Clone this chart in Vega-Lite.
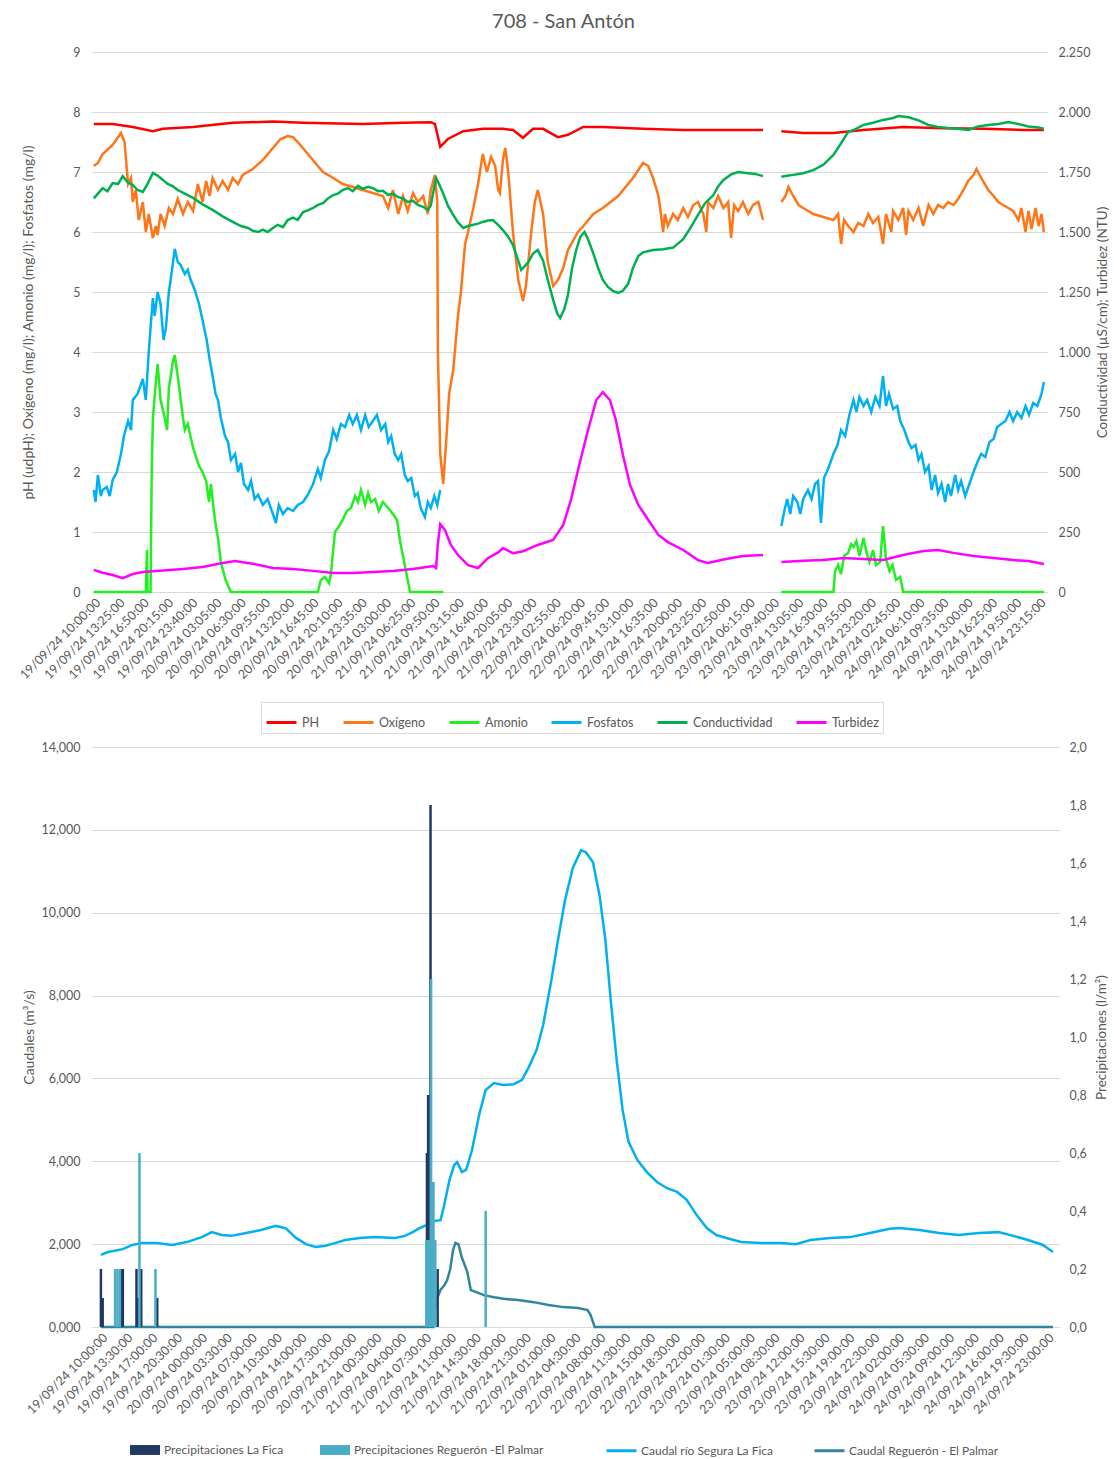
{
"$schema":"https://vega.github.io/schema/vega-lite/v6.json",
"title":{"text":"708 - San Antón","fontSize":20,"font":"Lato","color":"#595959","fontWeight":"normal","anchor":"middle","offset":14},
"padding":{"left":17,"right":0,"top":12,"bottom":0},
"config":{"font":"Lato","view":{"stroke":null},
"axis":{"labelFont":"Lato","labelColor":"#595959","labelFontSize":12.5,"titleFont":"Lato","titleColor":"#595959","titleFontSize":14,"titleFontWeight":"normal","domain":false,"ticks":false,"gridColor":"#d9d9d9"},
"legend":{"labelFont":"Lato","labelColor":"#595959","labelFontSize":12.5,"padding":6,"labelLimit":400},
"concat":{"spacing":7}},
"datasets":{
"top":[
{"s":"PH","g":1,"t":"2024-09-19T10:00","v":7.8},{"s":"PH","g":1,"t":"2024-09-19T12:40","v":7.8},{"s":"PH","g":1,"t":"2024-09-19T15:30","v":7.75},{"s":"PH","g":1,"t":"2024-09-19T18:20","v":7.68},{"s":"PH","g":1,"t":"2024-09-19T19:45","v":7.72},{"s":"PH","g":1,"t":"2024-09-20T00:00","v":7.75},{"s":"PH","g":1,"t":"2024-09-20T05:35","v":7.82},{"s":"PH","g":1,"t":"2024-09-20T11:15","v":7.84},{"s":"PH","g":1,"t":"2024-09-20T15:30","v":7.82},{"s":"PH","g":1,"t":"2024-09-20T23:55","v":7.8},{"s":"PH","g":1,"t":"2024-09-21T05:35","v":7.82},{"s":"PH","g":1,"t":"2024-09-21T09:30","v":7.83},{"s":"PH","g":1,"t":"2024-09-21T10:05","v":7.8},{"s":"PH","g":1,"t":"2024-09-21T10:50","v":7.42},{"s":"PH","g":1,"t":"2024-09-21T11:55","v":7.55},{"s":"PH","g":1,"t":"2024-09-21T14:05","v":7.68},{"s":"PH","g":1,"t":"2024-09-21T16:50","v":7.72},{"s":"PH","g":1,"t":"2024-09-21T19:40","v":7.72},{"s":"PH","g":1,"t":"2024-09-21T21:05","v":7.7},{"s":"PH","g":1,"t":"2024-09-21T22:30","v":7.57},{"s":"PH","g":1,"t":"2024-09-21T23:55","v":7.72},{"s":"PH","g":1,"t":"2024-09-22T01:20","v":7.72},{"s":"PH","g":1,"t":"2024-09-22T03:25","v":7.58},{"s":"PH","g":1,"t":"2024-09-22T04:50","v":7.62},{"s":"PH","g":1,"t":"2024-09-22T07:00","v":7.75},{"s":"PH","g":1,"t":"2024-09-22T09:45","v":7.75},{"s":"PH","g":1,"t":"2024-09-22T15:25","v":7.72},{"s":"PH","g":1,"t":"2024-09-22T21:05","v":7.7},{"s":"PH","g":1,"t":"2024-09-23T02:45","v":7.7},{"s":"PH","g":1,"t":"2024-09-23T08:20","v":7.7},
{"s":"PH","g":2,"t":"2024-09-23T10:55","v":7.68},{"s":"PH","g":2,"t":"2024-09-23T14:00","v":7.65},{"s":"PH","g":2,"t":"2024-09-23T18:15","v":7.65},{"s":"PH","g":2,"t":"2024-09-23T22:30","v":7.7},{"s":"PH","g":2,"t":"2024-09-24T04:05","v":7.75},{"s":"PH","g":2,"t":"2024-09-24T09:45","v":7.73},{"s":"PH","g":2,"t":"2024-09-24T15:25","v":7.72},{"s":"PH","g":2,"t":"2024-09-24T21:00","v":7.7},{"s":"PH","g":2,"t":"2024-09-24T23:55","v":7.7},
{"s":"Oxígeno","g":1,"t":"2024-09-19T10:00","v":7.1},{"s":"Oxígeno","g":1,"t":"2024-09-19T10:35","v":7.15},{"s":"Oxígeno","g":1,"t":"2024-09-19T11:15","v":7.3},{"s":"Oxígeno","g":1,"t":"2024-09-19T12:40","v":7.45},{"s":"Oxígeno","g":1,"t":"2024-09-19T13:50","v":7.65},{"s":"Oxígeno","g":1,"t":"2024-09-19T14:20","v":7.5},{"s":"Oxígeno","g":1,"t":"2024-09-19T14:50","v":6.8},{"s":"Oxígeno","g":1,"t":"2024-09-19T15:15","v":6.9},{"s":"Oxígeno","g":1,"t":"2024-09-19T15:30","v":6.5},{"s":"Oxígeno","g":1,"t":"2024-09-19T15:55","v":6.7},{"s":"Oxígeno","g":1,"t":"2024-09-19T16:20","v":6.2},{"s":"Oxígeno","g":1,"t":"2024-09-19T16:55","v":6.5},{"s":"Oxígeno","g":1,"t":"2024-09-19T17:20","v":6.0},{"s":"Oxígeno","g":1,"t":"2024-09-19T17:45","v":6.3},{"s":"Oxígeno","g":1,"t":"2024-09-19T18:20","v":5.9},{"s":"Oxígeno","g":1,"t":"2024-09-19T18:45","v":6.1},{"s":"Oxígeno","g":1,"t":"2024-09-19T19:00","v":5.95},{"s":"Oxígeno","g":1,"t":"2024-09-19T19:25","v":6.3},{"s":"Oxígeno","g":1,"t":"2024-09-19T20:00","v":6.1},{"s":"Oxígeno","g":1,"t":"2024-09-19T20:35","v":6.4},{"s":"Oxígeno","g":1,"t":"2024-09-19T21:10","v":6.3},{"s":"Oxígeno","g":1,"t":"2024-09-19T21:50","v":6.55},{"s":"Oxígeno","g":1,"t":"2024-09-19T22:35","v":6.3},{"s":"Oxígeno","g":1,"t":"2024-09-19T23:15","v":6.5},{"s":"Oxígeno","g":1,"t":"2024-09-20T00:00","v":6.35},{"s":"Oxígeno","g":1,"t":"2024-09-20T00:40","v":6.8},{"s":"Oxígeno","g":1,"t":"2024-09-20T01:20","v":6.5},{"s":"Oxígeno","g":1,"t":"2024-09-20T01:50","v":6.85},{"s":"Oxígeno","g":1,"t":"2024-09-20T02:20","v":6.6},{"s":"Oxígeno","g":1,"t":"2024-09-20T02:45","v":6.9},{"s":"Oxígeno","g":1,"t":"2024-09-20T03:30","v":6.7},{"s":"Oxígeno","g":1,"t":"2024-09-20T04:10","v":6.85},{"s":"Oxígeno","g":1,"t":"2024-09-20T04:55","v":6.7},{"s":"Oxígeno","g":1,"t":"2024-09-20T05:35","v":6.9},{"s":"Oxígeno","g":1,"t":"2024-09-20T06:20","v":6.8},{"s":"Oxígeno","g":1,"t":"2024-09-20T07:00","v":6.95},{"s":"Oxígeno","g":1,"t":"2024-09-20T08:25","v":7.05},{"s":"Oxígeno","g":1,"t":"2024-09-20T09:50","v":7.2},{"s":"Oxígeno","g":1,"t":"2024-09-20T11:15","v":7.4},{"s":"Oxígeno","g":1,"t":"2024-09-20T12:20","v":7.55},{"s":"Oxígeno","g":1,"t":"2024-09-20T13:20","v":7.6},{"s":"Oxígeno","g":1,"t":"2024-09-20T14:05","v":7.58},{"s":"Oxígeno","g":1,"t":"2024-09-20T14:45","v":7.5},{"s":"Oxígeno","g":1,"t":"2024-09-20T16:10","v":7.3},{"s":"Oxígeno","g":1,"t":"2024-09-20T17:35","v":7.1},{"s":"Oxígeno","g":1,"t":"2024-09-20T18:20","v":7.0},{"s":"Oxígeno","g":1,"t":"2024-09-20T19:45","v":6.9},{"s":"Oxígeno","g":1,"t":"2024-09-20T21:05","v":6.8},{"s":"Oxígeno","g":1,"t":"2024-09-20T22:30","v":6.75},{"s":"Oxígeno","g":1,"t":"2024-09-20T23:55","v":6.7},{"s":"Oxígeno","g":1,"t":"2024-09-21T01:20","v":6.65},{"s":"Oxígeno","g":1,"t":"2024-09-21T02:45","v":6.6},{"s":"Oxígeno","g":1,"t":"2024-09-21T03:30","v":6.4},{"s":"Oxígeno","g":1,"t":"2024-09-21T04:10","v":6.7},{"s":"Oxígeno","g":1,"t":"2024-09-21T04:55","v":6.3},{"s":"Oxígeno","g":1,"t":"2024-09-21T05:35","v":6.6},{"s":"Oxígeno","g":1,"t":"2024-09-21T06:15","v":6.35},{"s":"Oxígeno","g":1,"t":"2024-09-21T07:00","v":6.65},{"s":"Oxígeno","g":1,"t":"2024-09-21T07:40","v":6.5},{"s":"Oxígeno","g":1,"t":"2024-09-21T08:25","v":6.6},{"s":"Oxígeno","g":1,"t":"2024-09-21T09:05","v":6.3},{"s":"Oxígeno","g":1,"t":"2024-09-21T09:30","v":6.7},{"s":"Oxígeno","g":1,"t":"2024-09-21T10:05","v":6.95},{"s":"Oxígeno","g":1,"t":"2024-09-21T10:25","v":6.5},{"s":"Oxígeno","g":1,"t":"2024-09-21T10:30","v":4.0},{"s":"Oxígeno","g":1,"t":"2024-09-21T10:50","v":2.3},{"s":"Oxígeno","g":1,"t":"2024-09-21T11:15","v":1.8},{"s":"Oxígeno","g":1,"t":"2024-09-21T11:40","v":2.5},{"s":"Oxígeno","g":1,"t":"2024-09-21T12:05","v":3.3},{"s":"Oxígeno","g":1,"t":"2024-09-21T12:40","v":3.7},{"s":"Oxígeno","g":1,"t":"2024-09-21T13:20","v":4.6},{"s":"Oxígeno","g":1,"t":"2024-09-21T13:45","v":5.0},{"s":"Oxígeno","g":1,"t":"2024-09-21T14:20","v":5.8},{"s":"Oxígeno","g":1,"t":"2024-09-21T14:45","v":6.0},{"s":"Oxígeno","g":1,"t":"2024-09-21T15:30","v":6.4},{"s":"Oxígeno","g":1,"t":"2024-09-21T16:10","v":6.8},{"s":"Oxígeno","g":1,"t":"2024-09-21T16:50","v":7.3},{"s":"Oxígeno","g":1,"t":"2024-09-21T17:25","v":7.0},{"s":"Oxígeno","g":1,"t":"2024-09-21T18:00","v":7.25},{"s":"Oxígeno","g":1,"t":"2024-09-21T18:35","v":7.1},{"s":"Oxígeno","g":1,"t":"2024-09-21T19:00","v":6.7},{"s":"Oxígeno","g":1,"t":"2024-09-21T19:15","v":6.65},{"s":"Oxígeno","g":1,"t":"2024-09-21T19:40","v":7.2},{"s":"Oxígeno","g":1,"t":"2024-09-21T20:00","v":7.4},{"s":"Oxígeno","g":1,"t":"2024-09-21T20:25","v":7.0},{"s":"Oxígeno","g":1,"t":"2024-09-21T21:05","v":6.0},{"s":"Oxígeno","g":1,"t":"2024-09-21T21:50","v":5.2},{"s":"Oxígeno","g":1,"t":"2024-09-21T22:30","v":4.85},{"s":"Oxígeno","g":1,"t":"2024-09-21T22:55","v":5.1},{"s":"Oxígeno","g":1,"t":"2024-09-21T23:40","v":6.0},{"s":"Oxígeno","g":1,"t":"2024-09-22T00:10","v":6.5},{"s":"Oxígeno","g":1,"t":"2024-09-22T00:35","v":6.7},{"s":"Oxígeno","g":1,"t":"2024-09-22T01:20","v":6.3},{"s":"Oxígeno","g":1,"t":"2024-09-22T02:00","v":5.5},{"s":"Oxígeno","g":1,"t":"2024-09-22T02:45","v":5.1},{"s":"Oxígeno","g":1,"t":"2024-09-22T03:25","v":5.2},{"s":"Oxígeno","g":1,"t":"2024-09-22T04:10","v":5.4},{"s":"Oxígeno","g":1,"t":"2024-09-22T04:50","v":5.7},{"s":"Oxígeno","g":1,"t":"2024-09-22T06:15","v":6.0},{"s":"Oxígeno","g":1,"t":"2024-09-22T07:00","v":6.1},{"s":"Oxígeno","g":1,"t":"2024-09-22T08:25","v":6.3},{"s":"Oxígeno","g":1,"t":"2024-09-22T09:45","v":6.4},{"s":"Oxígeno","g":1,"t":"2024-09-22T11:55","v":6.6},{"s":"Oxígeno","g":1,"t":"2024-09-22T14:00","v":6.9},{"s":"Oxígeno","g":1,"t":"2024-09-22T15:25","v":7.15},{"s":"Oxígeno","g":1,"t":"2024-09-22T16:10","v":7.1},{"s":"Oxígeno","g":1,"t":"2024-09-22T16:50","v":6.9},{"s":"Oxígeno","g":1,"t":"2024-09-22T17:35","v":6.6},{"s":"Oxígeno","g":1,"t":"2024-09-22T17:50","v":6.4},{"s":"Oxígeno","g":1,"t":"2024-09-22T18:15","v":6.0},{"s":"Oxígeno","g":1,"t":"2024-09-22T18:30","v":6.3},{"s":"Oxígeno","g":1,"t":"2024-09-22T18:55","v":6.1},{"s":"Oxígeno","g":1,"t":"2024-09-22T19:40","v":6.3},{"s":"Oxígeno","g":1,"t":"2024-09-22T20:20","v":6.2},{"s":"Oxígeno","g":1,"t":"2024-09-22T21:05","v":6.4},{"s":"Oxígeno","g":1,"t":"2024-09-22T21:45","v":6.25},{"s":"Oxígeno","g":1,"t":"2024-09-22T22:30","v":6.45},{"s":"Oxígeno","g":1,"t":"2024-09-22T23:10","v":6.5},{"s":"Oxígeno","g":1,"t":"2024-09-22T23:55","v":6.3},{"s":"Oxígeno","g":1,"t":"2024-09-23T00:20","v":6.0},{"s":"Oxígeno","g":1,"t":"2024-09-23T00:35","v":6.5},{"s":"Oxígeno","g":1,"t":"2024-09-23T01:20","v":6.4},{"s":"Oxígeno","g":1,"t":"2024-09-23T02:00","v":6.6},{"s":"Oxígeno","g":1,"t":"2024-09-23T02:45","v":6.4},{"s":"Oxígeno","g":1,"t":"2024-09-23T03:25","v":6.5},{"s":"Oxígeno","g":1,"t":"2024-09-23T03:50","v":5.9},{"s":"Oxígeno","g":1,"t":"2024-09-23T04:15","v":6.45},{"s":"Oxígeno","g":1,"t":"2024-09-23T04:50","v":6.35},{"s":"Oxígeno","g":1,"t":"2024-09-23T05:30","v":6.5},{"s":"Oxígeno","g":1,"t":"2024-09-23T06:15","v":6.3},{"s":"Oxígeno","g":1,"t":"2024-09-23T06:55","v":6.45},{"s":"Oxígeno","g":1,"t":"2024-09-23T07:40","v":6.5},{"s":"Oxígeno","g":1,"t":"2024-09-23T08:20","v":6.2},
{"s":"Oxígeno","g":2,"t":"2024-09-23T10:55","v":6.5},{"s":"Oxígeno","g":2,"t":"2024-09-23T11:30","v":6.6},{"s":"Oxígeno","g":2,"t":"2024-09-23T11:55","v":6.75},{"s":"Oxígeno","g":2,"t":"2024-09-23T12:35","v":6.6},{"s":"Oxígeno","g":2,"t":"2024-09-23T13:20","v":6.45},{"s":"Oxígeno","g":2,"t":"2024-09-23T14:00","v":6.4},{"s":"Oxígeno","g":2,"t":"2024-09-23T15:25","v":6.3},{"s":"Oxígeno","g":2,"t":"2024-09-23T16:50","v":6.25},{"s":"Oxígeno","g":2,"t":"2024-09-23T18:15","v":6.2},{"s":"Oxígeno","g":2,"t":"2024-09-23T18:55","v":6.3},{"s":"Oxígeno","g":2,"t":"2024-09-23T19:20","v":5.8},{"s":"Oxígeno","g":2,"t":"2024-09-23T19:45","v":6.2},{"s":"Oxígeno","g":2,"t":"2024-09-23T20:20","v":6.1},{"s":"Oxígeno","g":2,"t":"2024-09-23T21:05","v":6.0},{"s":"Oxígeno","g":2,"t":"2024-09-23T21:45","v":6.15},{"s":"Oxígeno","g":2,"t":"2024-09-23T22:30","v":6.1},{"s":"Oxígeno","g":2,"t":"2024-09-23T23:10","v":6.3},{"s":"Oxígeno","g":2,"t":"2024-09-23T23:50","v":6.15},{"s":"Oxígeno","g":2,"t":"2024-09-24T00:35","v":6.25},{"s":"Oxígeno","g":2,"t":"2024-09-24T01:15","v":5.8},{"s":"Oxígeno","g":2,"t":"2024-09-24T01:40","v":6.3},{"s":"Oxígeno","g":2,"t":"2024-09-24T02:25","v":6.0},{"s":"Oxígeno","g":2,"t":"2024-09-24T02:40","v":6.35},{"s":"Oxígeno","g":2,"t":"2024-09-24T03:25","v":6.2},{"s":"Oxígeno","g":2,"t":"2024-09-24T04:05","v":6.4},{"s":"Oxígeno","g":2,"t":"2024-09-24T04:30","v":5.95},{"s":"Oxígeno","g":2,"t":"2024-09-24T04:50","v":6.35},{"s":"Oxígeno","g":2,"t":"2024-09-24T05:30","v":6.2},{"s":"Oxígeno","g":2,"t":"2024-09-24T06:15","v":6.4},{"s":"Oxígeno","g":2,"t":"2024-09-24T06:55","v":6.1},{"s":"Oxígeno","g":2,"t":"2024-09-24T07:40","v":6.45},{"s":"Oxígeno","g":2,"t":"2024-09-24T08:20","v":6.3},{"s":"Oxígeno","g":2,"t":"2024-09-24T09:00","v":6.45},{"s":"Oxígeno","g":2,"t":"2024-09-24T09:45","v":6.4},{"s":"Oxígeno","g":2,"t":"2024-09-24T10:25","v":6.5},{"s":"Oxígeno","g":2,"t":"2024-09-24T11:10","v":6.45},{"s":"Oxígeno","g":2,"t":"2024-09-24T11:50","v":6.55},{"s":"Oxígeno","g":2,"t":"2024-09-24T12:35","v":6.7},{"s":"Oxígeno","g":2,"t":"2024-09-24T13:15","v":6.85},{"s":"Oxígeno","g":2,"t":"2024-09-24T14:00","v":6.95},{"s":"Oxígeno","g":2,"t":"2024-09-24T14:25","v":7.05},{"s":"Oxígeno","g":2,"t":"2024-09-24T15:05","v":6.9},{"s":"Oxígeno","g":2,"t":"2024-09-24T16:05","v":6.7},{"s":"Oxígeno","g":2,"t":"2024-09-24T16:50","v":6.6},{"s":"Oxígeno","g":2,"t":"2024-09-24T17:30","v":6.5},{"s":"Oxígeno","g":2,"t":"2024-09-24T18:10","v":6.45},{"s":"Oxígeno","g":2,"t":"2024-09-24T18:55","v":6.4},{"s":"Oxígeno","g":2,"t":"2024-09-24T19:35","v":6.35},{"s":"Oxígeno","g":2,"t":"2024-09-24T20:20","v":6.2},{"s":"Oxígeno","g":2,"t":"2024-09-24T20:45","v":6.4},{"s":"Oxígeno","g":2,"t":"2024-09-24T21:20","v":6.0},{"s":"Oxígeno","g":2,"t":"2024-09-24T21:45","v":6.35},{"s":"Oxígeno","g":2,"t":"2024-09-24T22:10","v":6.05},{"s":"Oxígeno","g":2,"t":"2024-09-24T22:45","v":6.4},{"s":"Oxígeno","g":2,"t":"2024-09-24T23:10","v":6.1},{"s":"Oxígeno","g":2,"t":"2024-09-24T23:35","v":6.3},{"s":"Oxígeno","g":2,"t":"2024-09-24T23:55","v":6.0},
{"s":"Amonio","g":1,"t":"2024-09-19T10:00","v":0},{"s":"Amonio","g":1,"t":"2024-09-19T17:20","v":0},{"s":"Amonio","g":1,"t":"2024-09-19T17:30","v":0.7},{"s":"Amonio","g":1,"t":"2024-09-19T17:35","v":0},{"s":"Amonio","g":1,"t":"2024-09-19T18:00","v":0},{"s":"Amonio","g":1,"t":"2024-09-19T18:10","v":2.0},{"s":"Amonio","g":1,"t":"2024-09-19T18:20","v":2.9},{"s":"Amonio","g":1,"t":"2024-09-19T18:45","v":3.5},{"s":"Amonio","g":1,"t":"2024-09-19T19:00","v":3.8},{"s":"Amonio","g":1,"t":"2024-09-19T19:25","v":3.2},{"s":"Amonio","g":1,"t":"2024-09-19T20:00","v":2.9},{"s":"Amonio","g":1,"t":"2024-09-19T20:20","v":2.7},{"s":"Amonio","g":1,"t":"2024-09-19T20:35","v":3.4},{"s":"Amonio","g":1,"t":"2024-09-19T21:10","v":3.85},{"s":"Amonio","g":1,"t":"2024-09-19T21:25","v":3.95},{"s":"Amonio","g":1,"t":"2024-09-19T22:00","v":3.45},{"s":"Amonio","g":1,"t":"2024-09-19T22:15","v":3.2},{"s":"Amonio","g":1,"t":"2024-09-19T22:35","v":2.9},{"s":"Amonio","g":1,"t":"2024-09-19T22:50","v":2.7},{"s":"Amonio","g":1,"t":"2024-09-19T23:15","v":2.8},{"s":"Amonio","g":1,"t":"2024-09-20T00:00","v":2.4},{"s":"Amonio","g":1,"t":"2024-09-20T00:50","v":2.1},{"s":"Amonio","g":1,"t":"2024-09-20T01:20","v":2.0},{"s":"Amonio","g":1,"t":"2024-09-20T01:50","v":1.85},{"s":"Amonio","g":1,"t":"2024-09-20T02:15","v":1.5},{"s":"Amonio","g":1,"t":"2024-09-20T02:30","v":1.8},{"s":"Amonio","g":1,"t":"2024-09-20T03:05","v":1.2},{"s":"Amonio","g":1,"t":"2024-09-20T03:30","v":0.9},{"s":"Amonio","g":1,"t":"2024-09-20T03:55","v":0.5},{"s":"Amonio","g":1,"t":"2024-09-20T04:35","v":0.2},{"s":"Amonio","g":1,"t":"2024-09-20T05:20","v":0},{"s":"Amonio","g":1,"t":"2024-09-20T17:35","v":0},{"s":"Amonio","g":1,"t":"2024-09-20T18:00","v":0.2},{"s":"Amonio","g":1,"t":"2024-09-20T18:35","v":0.25},{"s":"Amonio","g":1,"t":"2024-09-20T19:10","v":0.15},{"s":"Amonio","g":1,"t":"2024-09-20T19:25","v":0.3},{"s":"Amonio","g":1,"t":"2024-09-20T20:00","v":1.0},{"s":"Amonio","g":1,"t":"2024-09-20T20:35","v":1.1},{"s":"Amonio","g":1,"t":"2024-09-20T21:05","v":1.2},{"s":"Amonio","g":1,"t":"2024-09-20T21:40","v":1.35},{"s":"Amonio","g":1,"t":"2024-09-20T22:15","v":1.4},{"s":"Amonio","g":1,"t":"2024-09-20T22:50","v":1.6},{"s":"Amonio","g":1,"t":"2024-09-20T23:15","v":1.5},{"s":"Amonio","g":1,"t":"2024-09-20T23:40","v":1.7},{"s":"Amonio","g":1,"t":"2024-09-21T00:15","v":1.45},{"s":"Amonio","g":1,"t":"2024-09-21T00:40","v":1.65},{"s":"Amonio","g":1,"t":"2024-09-21T01:05","v":1.5},{"s":"Amonio","g":1,"t":"2024-09-21T01:40","v":1.55},{"s":"Amonio","g":1,"t":"2024-09-21T02:10","v":1.35},{"s":"Amonio","g":1,"t":"2024-09-21T02:45","v":1.5},{"s":"Amonio","g":1,"t":"2024-09-21T03:30","v":1.4},{"s":"Amonio","g":1,"t":"2024-09-21T04:10","v":1.3},{"s":"Amonio","g":1,"t":"2024-09-21T04:45","v":1.2},{"s":"Amonio","g":1,"t":"2024-09-21T05:10","v":0.85},{"s":"Amonio","g":1,"t":"2024-09-21T05:35","v":0.6},{"s":"Amonio","g":1,"t":"2024-09-21T06:00","v":0.35},{"s":"Amonio","g":1,"t":"2024-09-21T06:35","v":0},{"s":"Amonio","g":1,"t":"2024-09-21T11:15","v":0},
{"s":"Amonio","g":2,"t":"2024-09-23T10:55","v":0},{"s":"Amonio","g":2,"t":"2024-09-23T18:15","v":0},{"s":"Amonio","g":2,"t":"2024-09-23T18:30","v":0.35},{"s":"Amonio","g":2,"t":"2024-09-23T18:55","v":0.45},{"s":"Amonio","g":2,"t":"2024-09-23T19:20","v":0.3},{"s":"Amonio","g":2,"t":"2024-09-23T19:45","v":0.6},{"s":"Amonio","g":2,"t":"2024-09-23T20:20","v":0.65},{"s":"Amonio","g":2,"t":"2024-09-23T20:45","v":0.8},{"s":"Amonio","g":2,"t":"2024-09-23T21:05","v":0.75},{"s":"Amonio","g":2,"t":"2024-09-23T21:30","v":0.85},{"s":"Amonio","g":2,"t":"2024-09-23T21:55","v":0.6},{"s":"Amonio","g":2,"t":"2024-09-23T22:30","v":0.9},{"s":"Amonio","g":2,"t":"2024-09-23T22:55","v":0.65},{"s":"Amonio","g":2,"t":"2024-09-23T23:20","v":0.5},{"s":"Amonio","g":2,"t":"2024-09-23T23:50","v":0.7},{"s":"Amonio","g":2,"t":"2024-09-24T00:15","v":0.45},{"s":"Amonio","g":2,"t":"2024-09-24T00:50","v":0.5},{"s":"Amonio","g":2,"t":"2024-09-24T01:15","v":1.1},{"s":"Amonio","g":2,"t":"2024-09-24T01:40","v":0.55},{"s":"Amonio","g":2,"t":"2024-09-24T02:10","v":0.35},{"s":"Amonio","g":2,"t":"2024-09-24T02:35","v":0.45},{"s":"Amonio","g":2,"t":"2024-09-24T03:05","v":0.2},{"s":"Amonio","g":2,"t":"2024-09-24T03:40","v":0.25},{"s":"Amonio","g":2,"t":"2024-09-24T04:05","v":0},{"s":"Amonio","g":2,"t":"2024-09-24T23:55","v":0},
{"s":"Fosfatos","g":1,"t":"2024-09-19T10:00","v":1.7},{"s":"Fosfatos","g":1,"t":"2024-09-19T10:15","v":1.5},{"s":"Fosfatos","g":1,"t":"2024-09-19T10:35","v":1.95},{"s":"Fosfatos","g":1,"t":"2024-09-19T11:00","v":1.6},{"s":"Fosfatos","g":1,"t":"2024-09-19T11:15","v":1.7},{"s":"Fosfatos","g":1,"t":"2024-09-19T11:50","v":1.75},{"s":"Fosfatos","g":1,"t":"2024-09-19T12:15","v":1.6},{"s":"Fosfatos","g":1,"t":"2024-09-19T12:40","v":1.87},{"s":"Fosfatos","g":1,"t":"2024-09-19T13:15","v":2.0},{"s":"Fosfatos","g":1,"t":"2024-09-19T13:50","v":2.3},{"s":"Fosfatos","g":1,"t":"2024-09-19T14:15","v":2.6},{"s":"Fosfatos","g":1,"t":"2024-09-19T14:50","v":2.85},{"s":"Fosfatos","g":1,"t":"2024-09-19T15:15","v":2.7},{"s":"Fosfatos","g":1,"t":"2024-09-19T15:30","v":3.2},{"s":"Fosfatos","g":1,"t":"2024-09-19T16:10","v":3.3},{"s":"Fosfatos","g":1,"t":"2024-09-19T16:55","v":3.55},{"s":"Fosfatos","g":1,"t":"2024-09-19T17:20","v":3.2},{"s":"Fosfatos","g":1,"t":"2024-09-19T17:45","v":4.0},{"s":"Fosfatos","g":1,"t":"2024-09-19T18:00","v":4.4},{"s":"Fosfatos","g":1,"t":"2024-09-19T18:20","v":4.9},{"s":"Fosfatos","g":1,"t":"2024-09-19T18:35","v":4.6},{"s":"Fosfatos","g":1,"t":"2024-09-19T19:00","v":5.0},{"s":"Fosfatos","g":1,"t":"2024-09-19T19:25","v":4.8},{"s":"Fosfatos","g":1,"t":"2024-09-19T19:50","v":4.2},{"s":"Fosfatos","g":1,"t":"2024-09-19T20:10","v":4.4},{"s":"Fosfatos","g":1,"t":"2024-09-19T20:35","v":5.0},{"s":"Fosfatos","g":1,"t":"2024-09-19T20:50","v":5.2},{"s":"Fosfatos","g":1,"t":"2024-09-19T21:25","v":5.72},{"s":"Fosfatos","g":1,"t":"2024-09-19T21:50","v":5.5},{"s":"Fosfatos","g":1,"t":"2024-09-19T22:15","v":5.45},{"s":"Fosfatos","g":1,"t":"2024-09-19T22:50","v":5.3},{"s":"Fosfatos","g":1,"t":"2024-09-19T23:15","v":5.37},{"s":"Fosfatos","g":1,"t":"2024-09-19T23:40","v":5.2},{"s":"Fosfatos","g":1,"t":"2024-09-20T00:15","v":5.03},{"s":"Fosfatos","g":1,"t":"2024-09-20T00:50","v":4.8},{"s":"Fosfatos","g":1,"t":"2024-09-20T01:20","v":4.53},{"s":"Fosfatos","g":1,"t":"2024-09-20T01:55","v":4.2},{"s":"Fosfatos","g":1,"t":"2024-09-20T02:20","v":3.87},{"s":"Fosfatos","g":1,"t":"2024-09-20T02:45","v":3.6},{"s":"Fosfatos","g":1,"t":"2024-09-20T03:10","v":3.3},{"s":"Fosfatos","g":1,"t":"2024-09-20T03:30","v":3.2},{"s":"Fosfatos","g":1,"t":"2024-09-20T03:55","v":2.9},{"s":"Fosfatos","g":1,"t":"2024-09-20T04:30","v":2.6},{"s":"Fosfatos","g":1,"t":"2024-09-20T04:55","v":2.5},{"s":"Fosfatos","g":1,"t":"2024-09-20T05:20","v":2.2},{"s":"Fosfatos","g":1,"t":"2024-09-20T05:55","v":2.3},{"s":"Fosfatos","g":1,"t":"2024-09-20T06:20","v":2.0},{"s":"Fosfatos","g":1,"t":"2024-09-20T06:45","v":2.15},{"s":"Fosfatos","g":1,"t":"2024-09-20T07:10","v":1.8},{"s":"Fosfatos","g":1,"t":"2024-09-20T07:45","v":1.7},{"s":"Fosfatos","g":1,"t":"2024-09-20T08:10","v":1.85},{"s":"Fosfatos","g":1,"t":"2024-09-20T08:40","v":1.55},{"s":"Fosfatos","g":1,"t":"2024-09-20T09:10","v":1.62},{"s":"Fosfatos","g":1,"t":"2024-09-20T09:50","v":1.45},{"s":"Fosfatos","g":1,"t":"2024-09-20T10:30","v":1.55},{"s":"Fosfatos","g":1,"t":"2024-09-20T11:15","v":1.3},{"s":"Fosfatos","g":1,"t":"2024-09-20T11:40","v":1.15},{"s":"Fosfatos","g":1,"t":"2024-09-20T12:05","v":1.45},{"s":"Fosfatos","g":1,"t":"2024-09-20T12:40","v":1.3},{"s":"Fosfatos","g":1,"t":"2024-09-20T13:20","v":1.4},{"s":"Fosfatos","g":1,"t":"2024-09-20T14:05","v":1.35},{"s":"Fosfatos","g":1,"t":"2024-09-20T14:45","v":1.45},{"s":"Fosfatos","g":1,"t":"2024-09-20T15:30","v":1.5},{"s":"Fosfatos","g":1,"t":"2024-09-20T16:10","v":1.62},{"s":"Fosfatos","g":1,"t":"2024-09-20T16:55","v":1.8},{"s":"Fosfatos","g":1,"t":"2024-09-20T17:35","v":2.05},{"s":"Fosfatos","g":1,"t":"2024-09-20T18:00","v":1.9},{"s":"Fosfatos","g":1,"t":"2024-09-20T18:35","v":2.2},{"s":"Fosfatos","g":1,"t":"2024-09-20T19:10","v":2.35},{"s":"Fosfatos","g":1,"t":"2024-09-20T19:45","v":2.7},{"s":"Fosfatos","g":1,"t":"2024-09-20T20:15","v":2.55},{"s":"Fosfatos","g":1,"t":"2024-09-20T20:50","v":2.8},{"s":"Fosfatos","g":1,"t":"2024-09-20T21:25","v":2.75},{"s":"Fosfatos","g":1,"t":"2024-09-20T22:00","v":2.95},{"s":"Fosfatos","g":1,"t":"2024-09-20T22:30","v":2.8},{"s":"Fosfatos","g":1,"t":"2024-09-20T23:05","v":2.95},{"s":"Fosfatos","g":1,"t":"2024-09-20T23:40","v":2.7},{"s":"Fosfatos","g":1,"t":"2024-09-21T00:15","v":2.95},{"s":"Fosfatos","g":1,"t":"2024-09-21T00:45","v":2.75},{"s":"Fosfatos","g":1,"t":"2024-09-21T01:20","v":2.85},{"s":"Fosfatos","g":1,"t":"2024-09-21T01:55","v":2.95},{"s":"Fosfatos","g":1,"t":"2024-09-21T02:30","v":2.7},{"s":"Fosfatos","g":1,"t":"2024-09-21T03:05","v":2.8},{"s":"Fosfatos","g":1,"t":"2024-09-21T03:30","v":2.5},{"s":"Fosfatos","g":1,"t":"2024-09-21T03:55","v":2.6},{"s":"Fosfatos","g":1,"t":"2024-09-21T04:25","v":2.3},{"s":"Fosfatos","g":1,"t":"2024-09-21T04:55","v":2.2},{"s":"Fosfatos","g":1,"t":"2024-09-21T05:20","v":2.3},{"s":"Fosfatos","g":1,"t":"2024-09-21T05:50","v":1.95},{"s":"Fosfatos","g":1,"t":"2024-09-21T06:15","v":1.85},{"s":"Fosfatos","g":1,"t":"2024-09-21T06:45","v":1.9},{"s":"Fosfatos","g":1,"t":"2024-09-21T07:15","v":1.6},{"s":"Fosfatos","g":1,"t":"2024-09-21T07:40","v":1.65},{"s":"Fosfatos","g":1,"t":"2024-09-21T08:05","v":1.4},{"s":"Fosfatos","g":1,"t":"2024-09-21T08:40","v":1.25},{"s":"Fosfatos","g":1,"t":"2024-09-21T09:05","v":1.5},{"s":"Fosfatos","g":1,"t":"2024-09-21T09:30","v":1.4},{"s":"Fosfatos","g":1,"t":"2024-09-21T10:00","v":1.6},{"s":"Fosfatos","g":1,"t":"2024-09-21T10:25","v":1.45},{"s":"Fosfatos","g":1,"t":"2024-09-21T10:50","v":1.7},
{"s":"Fosfatos","g":2,"t":"2024-09-23T10:55","v":1.1},{"s":"Fosfatos","g":2,"t":"2024-09-23T11:20","v":1.35},{"s":"Fosfatos","g":2,"t":"2024-09-23T11:45","v":1.55},{"s":"Fosfatos","g":2,"t":"2024-09-23T12:10","v":1.3},{"s":"Fosfatos","g":2,"t":"2024-09-23T12:35","v":1.6},{"s":"Fosfatos","g":2,"t":"2024-09-23T13:10","v":1.5},{"s":"Fosfatos","g":2,"t":"2024-09-23T13:35","v":1.3},{"s":"Fosfatos","g":2,"t":"2024-09-23T14:00","v":1.55},{"s":"Fosfatos","g":2,"t":"2024-09-23T14:40","v":1.7},{"s":"Fosfatos","g":2,"t":"2024-09-23T15:10","v":1.55},{"s":"Fosfatos","g":2,"t":"2024-09-23T15:40","v":1.8},{"s":"Fosfatos","g":2,"t":"2024-09-23T16:05","v":1.85},{"s":"Fosfatos","g":2,"t":"2024-09-23T16:30","v":1.15},{"s":"Fosfatos","g":2,"t":"2024-09-23T16:55","v":1.9},{"s":"Fosfatos","g":2,"t":"2024-09-23T17:30","v":2.05},{"s":"Fosfatos","g":2,"t":"2024-09-23T18:15","v":2.3},{"s":"Fosfatos","g":2,"t":"2024-09-23T18:50","v":2.45},{"s":"Fosfatos","g":2,"t":"2024-09-23T19:20","v":2.7},{"s":"Fosfatos","g":2,"t":"2024-09-23T19:55","v":2.6},{"s":"Fosfatos","g":2,"t":"2024-09-23T20:30","v":2.95},{"s":"Fosfatos","g":2,"t":"2024-09-23T21:05","v":3.2},{"s":"Fosfatos","g":2,"t":"2024-09-23T21:30","v":3.0},{"s":"Fosfatos","g":2,"t":"2024-09-23T21:55","v":3.25},{"s":"Fosfatos","g":2,"t":"2024-09-23T22:30","v":3.1},{"s":"Fosfatos","g":2,"t":"2024-09-23T23:00","v":3.2},{"s":"Fosfatos","g":2,"t":"2024-09-23T23:35","v":3.0},{"s":"Fosfatos","g":2,"t":"2024-09-24T00:10","v":3.25},{"s":"Fosfatos","g":2,"t":"2024-09-24T00:45","v":3.1},{"s":"Fosfatos","g":2,"t":"2024-09-24T01:15","v":3.6},{"s":"Fosfatos","g":2,"t":"2024-09-24T01:40","v":3.1},{"s":"Fosfatos","g":2,"t":"2024-09-24T02:05","v":3.3},{"s":"Fosfatos","g":2,"t":"2024-09-24T02:40","v":3.05},{"s":"Fosfatos","g":2,"t":"2024-09-24T03:15","v":3.1},{"s":"Fosfatos","g":2,"t":"2024-09-24T03:40","v":2.85},{"s":"Fosfatos","g":2,"t":"2024-09-24T04:15","v":2.7},{"s":"Fosfatos","g":2,"t":"2024-09-24T04:50","v":2.5},{"s":"Fosfatos","g":2,"t":"2024-09-24T05:15","v":2.4},{"s":"Fosfatos","g":2,"t":"2024-09-24T05:50","v":2.45},{"s":"Fosfatos","g":2,"t":"2024-09-24T06:15","v":2.2},{"s":"Fosfatos","g":2,"t":"2024-09-24T06:40","v":2.3},{"s":"Fosfatos","g":2,"t":"2024-09-24T07:10","v":2.0},{"s":"Fosfatos","g":2,"t":"2024-09-24T07:40","v":2.1},{"s":"Fosfatos","g":2,"t":"2024-09-24T08:05","v":1.7},{"s":"Fosfatos","g":2,"t":"2024-09-24T08:35","v":1.95},{"s":"Fosfatos","g":2,"t":"2024-09-24T09:00","v":1.65},{"s":"Fosfatos","g":2,"t":"2024-09-24T09:30","v":1.8},{"s":"Fosfatos","g":2,"t":"2024-09-24T10:00","v":1.5},{"s":"Fosfatos","g":2,"t":"2024-09-24T10:25","v":1.8},{"s":"Fosfatos","g":2,"t":"2024-09-24T10:50","v":1.6},{"s":"Fosfatos","g":2,"t":"2024-09-24T11:25","v":1.95},{"s":"Fosfatos","g":2,"t":"2024-09-24T11:50","v":1.7},{"s":"Fosfatos","g":2,"t":"2024-09-24T12:15","v":1.85},{"s":"Fosfatos","g":2,"t":"2024-09-24T12:50","v":1.6},{"s":"Fosfatos","g":2,"t":"2024-09-24T13:25","v":1.8},{"s":"Fosfatos","g":2,"t":"2024-09-24T14:00","v":2.0},{"s":"Fosfatos","g":2,"t":"2024-09-24T14:30","v":2.15},{"s":"Fosfatos","g":2,"t":"2024-09-24T15:05","v":2.3},{"s":"Fosfatos","g":2,"t":"2024-09-24T15:40","v":2.25},{"s":"Fosfatos","g":2,"t":"2024-09-24T16:15","v":2.5},{"s":"Fosfatos","g":2,"t":"2024-09-24T16:50","v":2.55},{"s":"Fosfatos","g":2,"t":"2024-09-24T17:20","v":2.75},{"s":"Fosfatos","g":2,"t":"2024-09-24T17:55","v":2.8},{"s":"Fosfatos","g":2,"t":"2024-09-24T18:30","v":2.85},{"s":"Fosfatos","g":2,"t":"2024-09-24T19:05","v":3.0},{"s":"Fosfatos","g":2,"t":"2024-09-24T19:35","v":2.85},{"s":"Fosfatos","g":2,"t":"2024-09-24T20:10","v":3.0},{"s":"Fosfatos","g":2,"t":"2024-09-24T20:45","v":2.9},{"s":"Fosfatos","g":2,"t":"2024-09-24T21:20","v":3.1},{"s":"Fosfatos","g":2,"t":"2024-09-24T21:50","v":2.95},{"s":"Fosfatos","g":2,"t":"2024-09-24T22:25","v":3.15},{"s":"Fosfatos","g":2,"t":"2024-09-24T23:00","v":3.1},{"s":"Fosfatos","g":2,"t":"2024-09-24T23:35","v":3.3},{"s":"Fosfatos","g":2,"t":"2024-09-24T23:55","v":3.5},
{"s":"Conductividad","g":1,"t":"2024-09-19T10:00","v":1640},{"s":"Conductividad","g":1,"t":"2024-09-19T10:35","v":1660},{"s":"Conductividad","g":1,"t":"2024-09-19T11:15","v":1683},{"s":"Conductividad","g":1,"t":"2024-09-19T11:55","v":1670},{"s":"Conductividad","g":1,"t":"2024-09-19T12:40","v":1704},{"s":"Conductividad","g":1,"t":"2024-09-19T13:25","v":1700},{"s":"Conductividad","g":1,"t":"2024-09-19T14:05","v":1733},{"s":"Conductividad","g":1,"t":"2024-09-19T14:50","v":1705},{"s":"Conductividad","g":1,"t":"2024-09-19T15:30","v":1696},{"s":"Conductividad","g":1,"t":"2024-09-19T16:10","v":1675},{"s":"Conductividad","g":1,"t":"2024-09-19T16:55","v":1667},{"s":"Conductividad","g":1,"t":"2024-09-19T17:35","v":1700},{"s":"Conductividad","g":1,"t":"2024-09-19T18:20","v":1746},{"s":"Conductividad","g":1,"t":"2024-09-19T19:00","v":1735},{"s":"Conductividad","g":1,"t":"2024-09-19T19:45","v":1717},{"s":"Conductividad","g":1,"t":"2024-09-19T20:25","v":1700},{"s":"Conductividad","g":1,"t":"2024-09-19T21:10","v":1690},{"s":"Conductividad","g":1,"t":"2024-09-19T21:50","v":1675},{"s":"Conductividad","g":1,"t":"2024-09-19T22:50","v":1660},{"s":"Conductividad","g":1,"t":"2024-09-20T00:00","v":1642},{"s":"Conductividad","g":1,"t":"2024-09-20T01:20","v":1615},{"s":"Conductividad","g":1,"t":"2024-09-20T02:45","v":1592},{"s":"Conductividad","g":1,"t":"2024-09-20T04:10","v":1565},{"s":"Conductividad","g":1,"t":"2024-09-20T05:35","v":1542},{"s":"Conductividad","g":1,"t":"2024-09-20T06:45","v":1525},{"s":"Conductividad","g":1,"t":"2024-09-20T07:45","v":1517},{"s":"Conductividad","g":1,"t":"2024-09-20T08:25","v":1505},{"s":"Conductividad","g":1,"t":"2024-09-20T09:10","v":1500},{"s":"Conductividad","g":1,"t":"2024-09-20T09:50","v":1510},{"s":"Conductividad","g":1,"t":"2024-09-20T10:30","v":1500},{"s":"Conductividad","g":1,"t":"2024-09-20T11:15","v":1517},{"s":"Conductividad","g":1,"t":"2024-09-20T11:55","v":1530},{"s":"Conductividad","g":1,"t":"2024-09-20T12:40","v":1520},{"s":"Conductividad","g":1,"t":"2024-09-20T13:20","v":1550},{"s":"Conductividad","g":1,"t":"2024-09-20T14:05","v":1560},{"s":"Conductividad","g":1,"t":"2024-09-20T14:45","v":1550},{"s":"Conductividad","g":1,"t":"2024-09-20T15:30","v":1583},{"s":"Conductividad","g":1,"t":"2024-09-20T16:10","v":1590},{"s":"Conductividad","g":1,"t":"2024-09-20T16:55","v":1600},{"s":"Conductividad","g":1,"t":"2024-09-20T17:35","v":1613},{"s":"Conductividad","g":1,"t":"2024-09-20T18:20","v":1620},{"s":"Conductividad","g":1,"t":"2024-09-20T19:00","v":1640},{"s":"Conductividad","g":1,"t":"2024-09-20T19:45","v":1654},{"s":"Conductividad","g":1,"t":"2024-09-20T20:25","v":1660},{"s":"Conductividad","g":1,"t":"2024-09-20T21:05","v":1675},{"s":"Conductividad","g":1,"t":"2024-09-20T21:50","v":1683},{"s":"Conductividad","g":1,"t":"2024-09-20T22:30","v":1670},{"s":"Conductividad","g":1,"t":"2024-09-20T23:15","v":1692},{"s":"Conductividad","g":1,"t":"2024-09-20T23:55","v":1680},{"s":"Conductividad","g":1,"t":"2024-09-21T00:40","v":1688},{"s":"Conductividad","g":1,"t":"2024-09-21T01:20","v":1683},{"s":"Conductividad","g":1,"t":"2024-09-21T02:05","v":1670},{"s":"Conductividad","g":1,"t":"2024-09-21T02:45","v":1672},{"s":"Conductividad","g":1,"t":"2024-09-21T03:30","v":1654},{"s":"Conductividad","g":1,"t":"2024-09-21T04:10","v":1660},{"s":"Conductividad","g":1,"t":"2024-09-21T04:55","v":1645},{"s":"Conductividad","g":1,"t":"2024-09-21T05:35","v":1640},{"s":"Conductividad","g":1,"t":"2024-09-21T06:15","v":1625},{"s":"Conductividad","g":1,"t":"2024-09-21T07:00","v":1630},{"s":"Conductividad","g":1,"t":"2024-09-21T07:40","v":1613},{"s":"Conductividad","g":1,"t":"2024-09-21T08:25","v":1605},{"s":"Conductividad","g":1,"t":"2024-09-21T09:05","v":1592},{"s":"Conductividad","g":1,"t":"2024-09-21T09:30","v":1610},{"s":"Conductividad","g":1,"t":"2024-09-21T10:00","v":1690},{"s":"Conductividad","g":1,"t":"2024-09-21T10:15","v":1725},{"s":"Conductividad","g":1,"t":"2024-09-21T10:40","v":1700},{"s":"Conductividad","g":1,"t":"2024-09-21T11:15","v":1660},{"s":"Conductividad","g":1,"t":"2024-09-21T11:55","v":1610},{"s":"Conductividad","g":1,"t":"2024-09-21T12:40","v":1571},{"s":"Conductividad","g":1,"t":"2024-09-21T13:20","v":1540},{"s":"Conductividad","g":1,"t":"2024-09-21T14:05","v":1517},{"s":"Conductividad","g":1,"t":"2024-09-21T14:45","v":1525},{"s":"Conductividad","g":1,"t":"2024-09-21T15:30","v":1530},{"s":"Conductividad","g":1,"t":"2024-09-21T16:10","v":1535},{"s":"Conductividad","g":1,"t":"2024-09-21T16:50","v":1542},{"s":"Conductividad","g":1,"t":"2024-09-21T17:35","v":1548},{"s":"Conductividad","g":1,"t":"2024-09-21T18:15","v":1550},{"s":"Conductividad","g":1,"t":"2024-09-21T19:00","v":1530},{"s":"Conductividad","g":1,"t":"2024-09-21T19:40","v":1508},{"s":"Conductividad","g":1,"t":"2024-09-21T20:25","v":1480},{"s":"Conductividad","g":1,"t":"2024-09-21T21:05","v":1446},{"s":"Conductividad","g":1,"t":"2024-09-21T21:50","v":1380},{"s":"Conductividad","g":1,"t":"2024-09-21T22:15","v":1342},{"s":"Conductividad","g":1,"t":"2024-09-21T22:40","v":1355},{"s":"Conductividad","g":1,"t":"2024-09-21T23:15","v":1375},{"s":"Conductividad","g":1,"t":"2024-09-21T23:55","v":1410},{"s":"Conductividad","g":1,"t":"2024-09-22T00:35","v":1425},{"s":"Conductividad","g":1,"t":"2024-09-22T01:20","v":1380},{"s":"Conductividad","g":1,"t":"2024-09-22T02:00","v":1300},{"s":"Conductividad","g":1,"t":"2024-09-22T02:45","v":1217},{"s":"Conductividad","g":1,"t":"2024-09-22T03:20","v":1160},{"s":"Conductividad","g":1,"t":"2024-09-22T03:45","v":1142},{"s":"Conductividad","g":1,"t":"2024-09-22T04:20","v":1180},{"s":"Conductividad","g":1,"t":"2024-09-22T04:50","v":1237},{"s":"Conductividad","g":1,"t":"2024-09-22T05:25","v":1350},{"s":"Conductividad","g":1,"t":"2024-09-22T06:00","v":1425},{"s":"Conductividad","g":1,"t":"2024-09-22T06:35","v":1480},{"s":"Conductividad","g":1,"t":"2024-09-22T07:10","v":1500},{"s":"Conductividad","g":1,"t":"2024-09-22T07:40","v":1470},{"s":"Conductividad","g":1,"t":"2024-09-22T08:25","v":1410},{"s":"Conductividad","g":1,"t":"2024-09-22T09:05","v":1350},{"s":"Conductividad","g":1,"t":"2024-09-22T09:45","v":1300},{"s":"Conductividad","g":1,"t":"2024-09-22T10:30","v":1270},{"s":"Conductividad","g":1,"t":"2024-09-22T11:10","v":1255},{"s":"Conductividad","g":1,"t":"2024-09-22T11:55","v":1246},{"s":"Conductividad","g":1,"t":"2024-09-22T12:35","v":1255},{"s":"Conductividad","g":1,"t":"2024-09-22T13:20","v":1285},{"s":"Conductividad","g":1,"t":"2024-09-22T14:00","v":1350},{"s":"Conductividad","g":1,"t":"2024-09-22T14:45","v":1400},{"s":"Conductividad","g":1,"t":"2024-09-22T15:25","v":1415},{"s":"Conductividad","g":1,"t":"2024-09-22T16:50","v":1425},{"s":"Conductividad","g":1,"t":"2024-09-22T18:15","v":1428},{"s":"Conductividad","g":1,"t":"2024-09-22T19:40","v":1435},{"s":"Conductividad","g":1,"t":"2024-09-22T21:05","v":1470},{"s":"Conductividad","g":1,"t":"2024-09-22T22:10","v":1520},{"s":"Conductividad","g":1,"t":"2024-09-22T23:10","v":1571},{"s":"Conductividad","g":1,"t":"2024-09-23T00:10","v":1620},{"s":"Conductividad","g":1,"t":"2024-09-23T01:20","v":1654},{"s":"Conductividad","g":1,"t":"2024-09-23T02:00","v":1690},{"s":"Conductividad","g":1,"t":"2024-09-23T02:45","v":1717},{"s":"Conductividad","g":1,"t":"2024-09-23T03:50","v":1740},{"s":"Conductividad","g":1,"t":"2024-09-23T04:50","v":1750},{"s":"Conductividad","g":1,"t":"2024-09-23T06:15","v":1745},{"s":"Conductividad","g":1,"t":"2024-09-23T07:15","v":1742},{"s":"Conductividad","g":1,"t":"2024-09-23T08:20","v":1733},
{"s":"Conductividad","g":2,"t":"2024-09-23T10:55","v":1730},{"s":"Conductividad","g":2,"t":"2024-09-23T11:55","v":1735},{"s":"Conductividad","g":2,"t":"2024-09-23T12:35","v":1738},{"s":"Conductividad","g":2,"t":"2024-09-23T14:00","v":1745},{"s":"Conductividad","g":2,"t":"2024-09-23T15:25","v":1758},{"s":"Conductividad","g":2,"t":"2024-09-23T16:50","v":1780},{"s":"Conductividad","g":2,"t":"2024-09-23T18:15","v":1821},{"s":"Conductividad","g":2,"t":"2024-09-23T19:20","v":1870},{"s":"Conductividad","g":2,"t":"2024-09-23T20:20","v":1917},{"s":"Conductividad","g":2,"t":"2024-09-23T21:05","v":1925},{"s":"Conductividad","g":2,"t":"2024-09-23T22:30","v":1946},{"s":"Conductividad","g":2,"t":"2024-09-23T23:50","v":1955},{"s":"Conductividad","g":2,"t":"2024-09-24T01:15","v":1967},{"s":"Conductividad","g":2,"t":"2024-09-24T02:40","v":1975},{"s":"Conductividad","g":2,"t":"2024-09-24T03:25","v":1983},{"s":"Conductividad","g":2,"t":"2024-09-24T04:50","v":1978},{"s":"Conductividad","g":2,"t":"2024-09-24T06:15","v":1965},{"s":"Conductividad","g":2,"t":"2024-09-24T07:40","v":1946},{"s":"Conductividad","g":2,"t":"2024-09-24T09:00","v":1938},{"s":"Conductividad","g":2,"t":"2024-09-24T10:25","v":1933},{"s":"Conductividad","g":2,"t":"2024-09-24T11:50","v":1930},{"s":"Conductividad","g":2,"t":"2024-09-24T13:15","v":1925},{"s":"Conductividad","g":2,"t":"2024-09-24T14:40","v":1940},{"s":"Conductividad","g":2,"t":"2024-09-24T16:05","v":1946},{"s":"Conductividad","g":2,"t":"2024-09-24T17:30","v":1950},{"s":"Conductividad","g":2,"t":"2024-09-24T18:55","v":1958},{"s":"Conductividad","g":2,"t":"2024-09-24T20:20","v":1950},{"s":"Conductividad","g":2,"t":"2024-09-24T21:45","v":1940},{"s":"Conductividad","g":2,"t":"2024-09-24T23:10","v":1935},{"s":"Conductividad","g":2,"t":"2024-09-24T23:55","v":1930},
{"s":"Turbidez","g":1,"t":"2024-09-19T10:00","v":92},{"s":"Turbidez","g":1,"t":"2024-09-19T11:15","v":80},{"s":"Turbidez","g":1,"t":"2024-09-19T12:40","v":71},{"s":"Turbidez","g":1,"t":"2024-09-19T14:05","v":58},{"s":"Turbidez","g":1,"t":"2024-09-19T15:30","v":75},{"s":"Turbidez","g":1,"t":"2024-09-19T16:55","v":83},{"s":"Turbidez","g":1,"t":"2024-09-19T19:45","v":90},{"s":"Turbidez","g":1,"t":"2024-09-19T22:35","v":96},{"s":"Turbidez","g":1,"t":"2024-09-20T01:20","v":104},{"s":"Turbidez","g":1,"t":"2024-09-20T04:10","v":121},{"s":"Turbidez","g":1,"t":"2024-09-20T05:55","v":129},{"s":"Turbidez","g":1,"t":"2024-09-20T08:25","v":118},{"s":"Turbidez","g":1,"t":"2024-09-20T11:15","v":100},{"s":"Turbidez","g":1,"t":"2024-09-20T14:05","v":96},{"s":"Turbidez","g":1,"t":"2024-09-20T16:55","v":88},{"s":"Turbidez","g":1,"t":"2024-09-20T19:45","v":79},{"s":"Turbidez","g":1,"t":"2024-09-20T22:30","v":79},{"s":"Turbidez","g":1,"t":"2024-09-21T01:20","v":83},{"s":"Turbidez","g":1,"t":"2024-09-21T04:10","v":88},{"s":"Turbidez","g":1,"t":"2024-09-21T07:00","v":96},{"s":"Turbidez","g":1,"t":"2024-09-21T09:50","v":108},{"s":"Turbidez","g":1,"t":"2024-09-21T10:15","v":100},{"s":"Turbidez","g":1,"t":"2024-09-21T10:30","v":200},{"s":"Turbidez","g":1,"t":"2024-09-21T10:50","v":283},{"s":"Turbidez","g":1,"t":"2024-09-21T11:30","v":258},{"s":"Turbidez","g":1,"t":"2024-09-21T12:20","v":196},{"s":"Turbidez","g":1,"t":"2024-09-21T13:20","v":154},{"s":"Turbidez","g":1,"t":"2024-09-21T14:45","v":112},{"s":"Turbidez","g":1,"t":"2024-09-21T16:10","v":100},{"s":"Turbidez","g":1,"t":"2024-09-21T17:35","v":142},{"s":"Turbidez","g":1,"t":"2024-09-21T19:00","v":165},{"s":"Turbidez","g":1,"t":"2024-09-21T19:40","v":183},{"s":"Turbidez","g":1,"t":"2024-09-21T21:05","v":162},{"s":"Turbidez","g":1,"t":"2024-09-21T22:30","v":170},{"s":"Turbidez","g":1,"t":"2024-09-22T00:35","v":196},{"s":"Turbidez","g":1,"t":"2024-09-22T02:45","v":217},{"s":"Turbidez","g":1,"t":"2024-09-22T04:10","v":279},{"s":"Turbidez","g":1,"t":"2024-09-22T05:15","v":383},{"s":"Turbidez","g":1,"t":"2024-09-22T06:15","v":508},{"s":"Turbidez","g":1,"t":"2024-09-22T07:40","v":675},{"s":"Turbidez","g":1,"t":"2024-09-22T08:50","v":800},{"s":"Turbidez","g":1,"t":"2024-09-22T09:45","v":833},{"s":"Turbidez","g":1,"t":"2024-09-22T10:45","v":800},{"s":"Turbidez","g":1,"t":"2024-09-22T11:35","v":717},{"s":"Turbidez","g":1,"t":"2024-09-22T12:35","v":571},{"s":"Turbidez","g":1,"t":"2024-09-22T13:35","v":446},{"s":"Turbidez","g":1,"t":"2024-09-22T14:45","v":363},{"s":"Turbidez","g":1,"t":"2024-09-22T16:10","v":300},{"s":"Turbidez","g":1,"t":"2024-09-22T17:35","v":238},{"s":"Turbidez","g":1,"t":"2024-09-22T18:55","v":208},{"s":"Turbidez","g":1,"t":"2024-09-22T21:05","v":175},{"s":"Turbidez","g":1,"t":"2024-09-22T23:10","v":133},{"s":"Turbidez","g":1,"t":"2024-09-23T00:35","v":121},{"s":"Turbidez","g":1,"t":"2024-09-23T02:45","v":135},{"s":"Turbidez","g":1,"t":"2024-09-23T05:30","v":150},{"s":"Turbidez","g":1,"t":"2024-09-23T08:20","v":154},
{"s":"Turbidez","g":2,"t":"2024-09-23T10:55","v":125},{"s":"Turbidez","g":2,"t":"2024-09-23T14:00","v":130},{"s":"Turbidez","g":2,"t":"2024-09-23T16:50","v":133},{"s":"Turbidez","g":2,"t":"2024-09-23T19:40","v":142},{"s":"Turbidez","g":2,"t":"2024-09-23T22:30","v":138},{"s":"Turbidez","g":2,"t":"2024-09-24T01:15","v":133},{"s":"Turbidez","g":2,"t":"2024-09-24T04:05","v":154},{"s":"Turbidez","g":2,"t":"2024-09-24T06:55","v":171},{"s":"Turbidez","g":2,"t":"2024-09-24T09:00","v":175},{"s":"Turbidez","g":2,"t":"2024-09-24T11:10","v":163},{"s":"Turbidez","g":2,"t":"2024-09-24T14:00","v":150},{"s":"Turbidez","g":2,"t":"2024-09-24T16:50","v":142},{"s":"Turbidez","g":2,"t":"2024-09-24T19:35","v":133},{"s":"Turbidez","g":2,"t":"2024-09-24T21:45","v":129},{"s":"Turbidez","g":2,"t":"2024-09-24T23:55","v":117}
],
"caudal":[
{"s":"Caudal río Segura La Fica","t":"2024-09-19T10:00","v":1.74},{"s":"Caudal río Segura La Fica","t":"2024-09-19T11:00","v":1.81},{"s":"Caudal río Segura La Fica","t":"2024-09-19T13:05","v":1.88},{"s":"Caudal río Segura La Fica","t":"2024-09-19T14:25","v":1.98},{"s":"Caudal río Segura La Fica","t":"2024-09-19T15:50","v":2.03},{"s":"Caudal río Segura La Fica","t":"2024-09-19T17:55","v":2.03},{"s":"Caudal río Segura La Fica","t":"2024-09-19T20:00","v":1.98},{"s":"Caudal río Segura La Fica","t":"2024-09-19T22:05","v":2.05},{"s":"Caudal río Segura La Fica","t":"2024-09-20T00:10","v":2.17},{"s":"Caudal río Segura La Fica","t":"2024-09-20T01:35","v":2.29},{"s":"Caudal río Segura La Fica","t":"2024-09-20T03:00","v":2.22},{"s":"Caudal río Segura La Fica","t":"2024-09-20T04:20","v":2.2},{"s":"Caudal río Segura La Fica","t":"2024-09-20T06:25","v":2.27},{"s":"Caudal río Segura La Fica","t":"2024-09-20T08:30","v":2.34},{"s":"Caudal río Segura La Fica","t":"2024-09-20T10:35","v":2.44},{"s":"Caudal río Segura La Fica","t":"2024-09-20T12:00","v":2.38},{"s":"Caudal río Segura La Fica","t":"2024-09-20T13:25","v":2.15},{"s":"Caudal río Segura La Fica","t":"2024-09-20T14:50","v":2.0},{"s":"Caudal río Segura La Fica","t":"2024-09-20T16:10","v":1.93},{"s":"Caudal río Segura La Fica","t":"2024-09-20T17:35","v":1.96},{"s":"Caudal río Segura La Fica","t":"2024-09-20T19:00","v":2.03},{"s":"Caudal río Segura La Fica","t":"2024-09-20T20:20","v":2.1},{"s":"Caudal río Segura La Fica","t":"2024-09-20T22:25","v":2.15},{"s":"Caudal río Segura La Fica","t":"2024-09-21T00:30","v":2.17},{"s":"Caudal río Segura La Fica","t":"2024-09-21T03:20","v":2.15},{"s":"Caudal río Segura La Fica","t":"2024-09-21T04:45","v":2.2},{"s":"Caudal río Segura La Fica","t":"2024-09-21T05:50","v":2.29},{"s":"Caudal río Segura La Fica","t":"2024-09-21T06:50","v":2.39},{"s":"Caudal río Segura La Fica","t":"2024-09-21T07:45","v":2.46},{"s":"Caudal río Segura La Fica","t":"2024-09-21T08:55","v":2.56},{"s":"Caudal río Segura La Fica","t":"2024-09-21T09:45","v":2.58},{"s":"Caudal río Segura La Fica","t":"2024-09-21T10:15","v":2.94},{"s":"Caudal río Segura La Fica","t":"2024-09-21T11:00","v":3.55},{"s":"Caudal río Segura La Fica","t":"2024-09-21T11:40","v":3.91},{"s":"Caudal río Segura La Fica","t":"2024-09-21T12:05","v":3.98},{"s":"Caudal río Segura La Fica","t":"2024-09-21T12:45","v":3.74},{"s":"Caudal río Segura La Fica","t":"2024-09-21T13:20","v":3.79},{"s":"Caudal río Segura La Fica","t":"2024-09-21T14:10","v":4.27},{"s":"Caudal río Segura La Fica","t":"2024-09-21T15:10","v":5.12},{"s":"Caudal río Segura La Fica","t":"2024-09-21T16:05","v":5.72},{"s":"Caudal río Segura La Fica","t":"2024-09-21T17:15","v":5.89},{"s":"Caudal río Segura La Fica","t":"2024-09-21T18:35","v":5.84},{"s":"Caudal río Segura La Fica","t":"2024-09-21T20:00","v":5.86},{"s":"Caudal río Segura La Fica","t":"2024-09-21T21:10","v":5.96},{"s":"Caudal río Segura La Fica","t":"2024-09-21T22:05","v":6.25},{"s":"Caudal río Segura La Fica","t":"2024-09-21T23:15","v":6.69},{"s":"Caudal río Segura La Fica","t":"2024-09-22T00:10","v":7.29},{"s":"Caudal río Segura La Fica","t":"2024-09-22T01:20","v":8.38},{"s":"Caudal río Segura La Fica","t":"2024-09-22T02:15","v":9.34},{"s":"Caudal río Segura La Fica","t":"2024-09-22T03:15","v":10.31},{"s":"Caudal río Segura La Fica","t":"2024-09-22T04:20","v":11.08},{"s":"Caudal río Segura La Fica","t":"2024-09-22T05:30","v":11.51},{"s":"Caudal río Segura La Fica","t":"2024-09-22T06:10","v":11.46},{"s":"Caudal río Segura La Fica","t":"2024-09-22T07:10","v":11.22},{"s":"Caudal río Segura La Fica","t":"2024-09-22T08:05","v":10.43},{"s":"Caudal río Segura La Fica","t":"2024-09-22T08:55","v":9.34},{"s":"Caudal río Segura La Fica","t":"2024-09-22T09:40","v":7.89},{"s":"Caudal río Segura La Fica","t":"2024-09-22T10:30","v":6.44},{"s":"Caudal río Segura La Fica","t":"2024-09-22T11:20","v":5.24},{"s":"Caudal río Segura La Fica","t":"2024-09-22T12:10","v":4.47},{"s":"Caudal río Segura La Fica","t":"2024-09-22T13:25","v":4.03},{"s":"Caudal río Segura La Fica","t":"2024-09-22T14:45","v":3.74},{"s":"Caudal río Segura La Fica","t":"2024-09-22T16:10","v":3.5},{"s":"Caudal río Segura La Fica","t":"2024-09-22T17:35","v":3.35},{"s":"Caudal río Segura La Fica","t":"2024-09-22T19:00","v":3.26},{"s":"Caudal río Segura La Fica","t":"2024-09-22T20:20","v":3.07},{"s":"Caudal río Segura La Fica","t":"2024-09-22T21:45","v":2.7},{"s":"Caudal río Segura La Fica","t":"2024-09-22T23:10","v":2.39},{"s":"Caudal río Segura La Fica","t":"2024-09-23T00:30","v":2.22},{"s":"Caudal río Segura La Fica","t":"2024-09-23T01:55","v":2.15},{"s":"Caudal río Segura La Fica","t":"2024-09-23T04:00","v":2.05},{"s":"Caudal río Segura La Fica","t":"2024-09-23T06:45","v":2.03},{"s":"Caudal río Segura La Fica","t":"2024-09-23T09:35","v":2.03},{"s":"Caudal río Segura La Fica","t":"2024-09-23T11:40","v":2.0},{"s":"Caudal río Segura La Fica","t":"2024-09-23T13:45","v":2.1},{"s":"Caudal río Segura La Fica","t":"2024-09-23T16:30","v":2.15},{"s":"Caudal río Segura La Fica","t":"2024-09-23T19:20","v":2.17},{"s":"Caudal río Segura La Fica","t":"2024-09-23T22:05","v":2.27},{"s":"Caudal río Segura La Fica","t":"2024-09-24T00:55","v":2.37},{"s":"Caudal río Segura La Fica","t":"2024-09-24T02:15","v":2.39},{"s":"Caudal río Segura La Fica","t":"2024-09-24T05:05","v":2.34},{"s":"Caudal río Segura La Fica","t":"2024-09-24T07:50","v":2.27},{"s":"Caudal río Segura La Fica","t":"2024-09-24T10:35","v":2.22},{"s":"Caudal río Segura La Fica","t":"2024-09-24T13:25","v":2.27},{"s":"Caudal río Segura La Fica","t":"2024-09-24T16:10","v":2.29},{"s":"Caudal río Segura La Fica","t":"2024-09-24T18:15","v":2.2},{"s":"Caudal río Segura La Fica","t":"2024-09-24T20:20","v":2.1},{"s":"Caudal río Segura La Fica","t":"2024-09-24T22:25","v":1.98},{"s":"Caudal río Segura La Fica","t":"2024-09-24T23:50","v":1.81},
{"s":"Caudal Reguerón - El Palmar","t":"2024-09-19T10:00","v":0},{"s":"Caudal Reguerón - El Palmar","t":"2024-09-21T08:45","v":0},{"s":"Caudal Reguerón - El Palmar","t":"2024-09-21T09:00","v":0.4},{"s":"Caudal Reguerón - El Palmar","t":"2024-09-21T09:10","v":0.65},{"s":"Caudal Reguerón - El Palmar","t":"2024-09-21T09:45","v":0.9},{"s":"Caudal Reguerón - El Palmar","t":"2024-09-21T10:15","v":1.0},{"s":"Caudal Reguerón - El Palmar","t":"2024-09-21T10:40","v":1.13},{"s":"Caudal Reguerón - El Palmar","t":"2024-09-21T11:05","v":1.38},{"s":"Caudal Reguerón - El Palmar","t":"2024-09-21T11:30","v":1.86},{"s":"Caudal Reguerón - El Palmar","t":"2024-09-21T11:50","v":2.03},{"s":"Caudal Reguerón - El Palmar","t":"2024-09-21T12:15","v":2.0},{"s":"Caudal Reguerón - El Palmar","t":"2024-09-21T12:45","v":1.67},{"s":"Caudal Reguerón - El Palmar","t":"2024-09-21T13:30","v":1.33},{"s":"Caudal Reguerón - El Palmar","t":"2024-09-21T14:00","v":0.89},{"s":"Caudal Reguerón - El Palmar","t":"2024-09-21T14:45","v":0.84},{"s":"Caudal Reguerón - El Palmar","t":"2024-09-21T15:50","v":0.77},{"s":"Caudal Reguerón - El Palmar","t":"2024-09-21T17:15","v":0.72},{"s":"Caudal Reguerón - El Palmar","t":"2024-09-21T18:35","v":0.68},{"s":"Caudal Reguerón - El Palmar","t":"2024-09-21T20:40","v":0.65},{"s":"Caudal Reguerón - El Palmar","t":"2024-09-21T22:50","v":0.6},{"s":"Caudal Reguerón - El Palmar","t":"2024-09-22T00:55","v":0.53},{"s":"Caudal Reguerón - El Palmar","t":"2024-09-22T03:00","v":0.48},{"s":"Caudal Reguerón - El Palmar","t":"2024-09-22T05:05","v":0.46},{"s":"Caudal Reguerón - El Palmar","t":"2024-09-22T06:25","v":0.41},{"s":"Caudal Reguerón - El Palmar","t":"2024-09-22T06:50","v":0.29},{"s":"Caudal Reguerón - El Palmar","t":"2024-09-22T07:25","v":0},{"s":"Caudal Reguerón - El Palmar","t":"2024-09-24T23:50","v":0}
],
"precip":[
{"s":"Precipitaciones La Fica","t":"2024-09-19T10:00","v":0.2},{"s":"Precipitaciones La Fica","t":"2024-09-19T10:15","v":0.1},{"s":"Precipitaciones La Fica","t":"2024-09-19T12:55","v":0.2},{"s":"Precipitaciones La Fica","t":"2024-09-19T13:05","v":0.2},{"s":"Precipitaciones La Fica","t":"2024-09-19T15:00","v":0.2},{"s":"Precipitaciones La Fica","t":"2024-09-19T15:15","v":0.1},{"s":"Precipitaciones La Fica","t":"2024-09-19T15:40","v":0.2},{"s":"Precipitaciones La Fica","t":"2024-09-19T17:55","v":0.1},{"s":"Precipitaciones La Fica","t":"2024-09-21T07:50","v":0.6},{"s":"Precipitaciones La Fica","t":"2024-09-21T08:00","v":0.8},{"s":"Precipitaciones La Fica","t":"2024-09-21T08:20","v":1.8},{"s":"Precipitaciones La Fica","t":"2024-09-21T09:20","v":0.2},
{"s":"Precipitaciones Reguerón -El Palmar","t":"2024-09-19T12:00","v":0.2},{"s":"Precipitaciones Reguerón -El Palmar","t":"2024-09-19T12:20","v":0.2},{"s":"Precipitaciones Reguerón -El Palmar","t":"2024-09-19T12:40","v":0.2},{"s":"Precipitaciones Reguerón -El Palmar","t":"2024-09-19T15:25","v":0.6},{"s":"Precipitaciones Reguerón -El Palmar","t":"2024-09-19T17:40","v":0.2},{"s":"Precipitaciones Reguerón -El Palmar","t":"2024-09-21T07:45","v":0.3},{"s":"Precipitaciones Reguerón -El Palmar","t":"2024-09-21T07:55","v":0.3},{"s":"Precipitaciones Reguerón -El Palmar","t":"2024-09-21T08:05","v":0.3},{"s":"Precipitaciones Reguerón -El Palmar","t":"2024-09-21T08:25","v":1.2},{"s":"Precipitaciones Reguerón -El Palmar","t":"2024-09-21T08:35","v":0.5},{"s":"Precipitaciones Reguerón -El Palmar","t":"2024-09-21T08:45","v":0.5},{"s":"Precipitaciones Reguerón -El Palmar","t":"2024-09-21T09:00","v":0.3},{"s":"Precipitaciones Reguerón -El Palmar","t":"2024-09-21T16:05","v":0.4}
]},
"vconcat":[
{"width":956,"height":540,
"data":{"name":"top"},
"encoding":{"x":{"field":"t","type":"temporal","scale":{"domain":[{"year":2024,"month":9,"date":19,"hours":9,"minutes":45},{"year":2024,"month":9,"date":25,"hours":0,"minutes":30}]},
"axis":{"title":null,"grid":false,"labelAngle":-45,"format":"%d/%m/%y %H:%M:%S","labelOverlap":false,"labelPadding":4,"values":{"expr":"sequence(datetime(2024,8,19,10,0), datetime(2024,8,25,0,0), 12300000)"}}}},
"layer":[
{"transform":[{"filter":"datum.s != 'Conductividad' && datum.s != 'Turbidez'"}],
"mark":{"type":"line","strokeWidth":2.5},
"encoding":{"y":{"field":"v","type":"quantitative","scale":{"domain":[0,9]},"axis":{"title":"pH (udpH); Oxígeno (mg/l); Amonio (mg/l); Fosfatos (mg/l)","values":[0,1,2,3,4,5,6,7,8,9],"titlePadding":37,"labelPadding":12}},
"color":{"field":"s","type":"nominal","scale":{"domain":["PH","Oxígeno","Amonio","Fosfatos","Conductividad","Turbidez"],"range":["#ff0000","#ff7518","#22ee22","#00b0f0","#00b050","#ff00ff"]},
"legend":{"title":null,"orient":"none","legendX":169,"legendY":650,"direction":"horizontal","symbolType":"stroke","symbolStrokeWidth":3,"symbolSize":900,"columnPadding":17,"labelOffset":4,"padding":4,"strokeColor":"#d9d9d9","fillColor":"#ffffff"}},
"detail":{"field":"g","type":"nominal"}}},
{"transform":[{"filter":"datum.s == 'Conductividad' || datum.s == 'Turbidez'"}],
"mark":{"type":"line","strokeWidth":2.5},
"encoding":{"y":{"field":"v","type":"quantitative","scale":{"domain":[0,2250]},"axis":{"orient":"right","grid":false,"title":"Conductividad (µS/cm); Turbidez (NTU)","titleAngle":270,"titleBaseline":"top","titleFontSize":13.5,"values":[0,250,500,750,1000,1250,1500,1750,2000,2250],"labelExpr":"replace(format(datum.value, ','), ',', '.')","labelPadding":10,"titlePadding":6}},
"color":{"field":"s","type":"nominal"},
"detail":{"field":"g","type":"nominal"}}}
],
"resolve":{"scale":{"y":"independent"}}},
{"width":968,"height":580,
"encoding":{"x":{"field":"t","type":"temporal","scale":{"domain":[{"year":2024,"month":9,"date":19,"hours":9,"minutes":27},{"year":2024,"month":9,"date":25,"hours":0,"minutes":7}]},
"axis":{"title":null,"grid":false,"labelAngle":-45,"format":"%d/%m/%y %H:%M:%S","labelOverlap":false,"labelPadding":4,"values":{"expr":"sequence(datetime(2024,8,19,10,0), datetime(2024,8,25,0,0), 12600000)"}}}},
"layer":[
{"data":{"name":"caudal"},
"mark":{"type":"line","strokeWidth":2.5},
"encoding":{"y":{"field":"v","type":"quantitative","scale":{"domain":[0,14]},"axis":{"title":"Caudales (m³/s)","values":[0,2,4,6,8,10,12,14],"labelExpr":"replace(format(datum.value, '.3f'), '.', ',')","titlePadding":4,"labelPadding":12}},
"stroke":{"field":"s","type":"nominal","scale":{"domain":["Caudal río Segura La Fica","Caudal Reguerón - El Palmar"],"range":["#00b0f0","#31859c"]},
"legend":{"title":null,"orient":"none","legendX":507,"legendY":681,"direction":"horizontal","symbolType":"stroke","symbolStrokeWidth":3,"symbolSize":900,"columnPadding":35,"labelOffset":3,"labelFontSize":12}}}},
{"data":{"name":"precip"},
"mark":{"type":"bar","size":2.5},
"encoding":{"y":{"field":"v","type":"quantitative","stack":null,"scale":{"domain":[0,2]},"axis":{"orient":"right","grid":false,"title":"Precipitaciones (l/m²)","titleAngle":270,"titleBaseline":"top","titleFontSize":13.5,"values":[0,0.2,0.4,0.6,0.8,1,1.2,1.4,1.6,1.8,2],"labelExpr":"replace(format(datum.value, '.1f'), '.', ',')","labelPadding":9,"titlePadding":8}},
"fill":{"field":"s","type":"nominal","scale":{"domain":["Precipitaciones La Fica","Precipitaciones Reguerón -El Palmar"],"range":["#1f3864","#4bacc6"]},
"legend":{"title":null,"orient":"none","legendX":31,"legendY":681,"direction":"horizontal","symbolType":"M-1,-0.33H1V0.33H-1Z","symbolSize":900,"columnPadding":35,"labelOffset":3,"labelFontSize":12}}}}
],
"resolve":{"scale":{"y":"independent"}}}
],
"resolve":{"scale":{"color":"independent","fill":"independent","stroke":"independent","x":"independent","y":"independent"},"legend":{"color":"independent","fill":"independent","stroke":"independent"}}
}
